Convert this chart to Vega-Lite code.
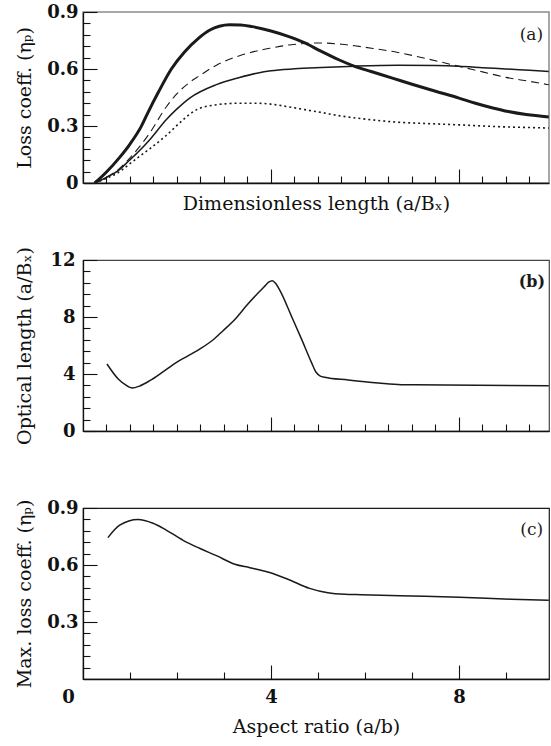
{
  "$schema": "https://vega.github.io/schema/vega-lite/v6.json",
  "padding": {"left": 14, "top": 2, "right": 0, "bottom": 0},
  "bounds": "flush",
  "spacing": 77,
  "datasets": {
    "a": [
      {"s": "thick", "x": 0.25, "y": 0}, {"s": "thick", "x": 0.5, "y": 0.058}, {"s": "thick", "x": 0.78, "y": 0.135}, {"s": "thick", "x": 1.0, "y": 0.205}, {"s": "thick", "x": 1.24, "y": 0.298}, {"s": "thick", "x": 1.4, "y": 0.38}, {"s": "thick", "x": 1.6, "y": 0.476}, {"s": "thick", "x": 1.88, "y": 0.6}, {"s": "thick", "x": 2.16, "y": 0.69}, {"s": "thick", "x": 2.45, "y": 0.76}, {"s": "thick", "x": 2.7, "y": 0.805}, {"s": "thick", "x": 2.9, "y": 0.825}, {"s": "thick", "x": 3.12, "y": 0.833}, {"s": "thick", "x": 3.35, "y": 0.832}, {"s": "thick", "x": 3.6, "y": 0.823}, {"s": "thick", "x": 4.0, "y": 0.8}, {"s": "thick", "x": 4.35, "y": 0.773}, {"s": "thick", "x": 4.72, "y": 0.737}, {"s": "thick", "x": 5.05, "y": 0.695}, {"s": "thick", "x": 5.43, "y": 0.65}, {"s": "thick", "x": 5.78, "y": 0.614}, {"s": "thick", "x": 6.13, "y": 0.587}, {"s": "thick", "x": 6.6, "y": 0.551}, {"s": "thick", "x": 7.0, "y": 0.52}, {"s": "thick", "x": 7.5, "y": 0.483}, {"s": "thick", "x": 8.0, "y": 0.447}, {"s": "thick", "x": 8.35, "y": 0.42}, {"s": "thick", "x": 8.72, "y": 0.395}, {"s": "thick", "x": 9.05, "y": 0.376}, {"s": "thick", "x": 9.43, "y": 0.36}, {"s": "thick", "x": 9.91, "y": 0.348},
      {"s": "dash", "x": 0.25, "y": 0}, {"s": "dash", "x": 0.5, "y": 0.03}, {"s": "dash", "x": 0.75, "y": 0.07}, {"s": "dash", "x": 0.99, "y": 0.13}, {"s": "dash", "x": 1.2, "y": 0.19}, {"s": "dash", "x": 1.42, "y": 0.263}, {"s": "dash", "x": 1.77, "y": 0.4}, {"s": "dash", "x": 2.0, "y": 0.47}, {"s": "dash", "x": 2.27, "y": 0.53}, {"s": "dash", "x": 2.45, "y": 0.56}, {"s": "dash", "x": 2.84, "y": 0.62}, {"s": "dash", "x": 3.33, "y": 0.67}, {"s": "dash", "x": 3.7, "y": 0.695}, {"s": "dash", "x": 4.0, "y": 0.71}, {"s": "dash", "x": 4.43, "y": 0.728}, {"s": "dash", "x": 5.07, "y": 0.737}, {"s": "dash", "x": 5.5, "y": 0.73}, {"s": "dash", "x": 5.78, "y": 0.722}, {"s": "dash", "x": 6.2, "y": 0.707}, {"s": "dash", "x": 6.7, "y": 0.687}, {"s": "dash", "x": 7.3, "y": 0.655}, {"s": "dash", "x": 8.0, "y": 0.614}, {"s": "dash", "x": 8.5, "y": 0.585}, {"s": "dash", "x": 9.0, "y": 0.556}, {"s": "dash", "x": 9.5, "y": 0.535}, {"s": "dash", "x": 9.91, "y": 0.517},
      {"s": "thin", "x": 0.25, "y": 0}, {"s": "thin", "x": 0.5, "y": 0.03}, {"s": "thin", "x": 0.75, "y": 0.065}, {"s": "thin", "x": 0.99, "y": 0.12}, {"s": "thin", "x": 1.2, "y": 0.17}, {"s": "thin", "x": 1.42, "y": 0.228}, {"s": "thin", "x": 1.77, "y": 0.333}, {"s": "thin", "x": 2.0, "y": 0.39}, {"s": "thin", "x": 2.27, "y": 0.447}, {"s": "thin", "x": 2.84, "y": 0.518}, {"s": "thin", "x": 3.33, "y": 0.555}, {"s": "thin", "x": 3.7, "y": 0.578}, {"s": "thin", "x": 4.0, "y": 0.591}, {"s": "thin", "x": 4.5, "y": 0.601}, {"s": "thin", "x": 5.07, "y": 0.608}, {"s": "thin", "x": 5.78, "y": 0.615}, {"s": "thin", "x": 6.7, "y": 0.62}, {"s": "thin", "x": 7.5, "y": 0.618}, {"s": "thin", "x": 8.0, "y": 0.614}, {"s": "thin", "x": 8.5, "y": 0.607}, {"s": "thin", "x": 9.0, "y": 0.6}, {"s": "thin", "x": 9.5, "y": 0.593}, {"s": "thin", "x": 9.91, "y": 0.587},
      {"s": "dot", "x": 0.25, "y": 0}, {"s": "dot", "x": 0.5, "y": 0.025}, {"s": "dot", "x": 0.75, "y": 0.055}, {"s": "dot", "x": 0.99, "y": 0.1}, {"s": "dot", "x": 1.2, "y": 0.14}, {"s": "dot", "x": 1.42, "y": 0.18}, {"s": "dot", "x": 1.77, "y": 0.25}, {"s": "dot", "x": 2.13, "y": 0.333}, {"s": "dot", "x": 2.41, "y": 0.385}, {"s": "dot", "x": 2.84, "y": 0.412}, {"s": "dot", "x": 3.1, "y": 0.418}, {"s": "dot", "x": 3.33, "y": 0.42}, {"s": "dot", "x": 3.7, "y": 0.42}, {"s": "dot", "x": 4.0, "y": 0.415}, {"s": "dot", "x": 4.35, "y": 0.402}, {"s": "dot", "x": 4.72, "y": 0.386}, {"s": "dot", "x": 5.1, "y": 0.37}, {"s": "dot", "x": 5.43, "y": 0.355}, {"s": "dot", "x": 6.13, "y": 0.333}, {"s": "dot", "x": 6.7, "y": 0.32}, {"s": "dot", "x": 7.3, "y": 0.313}, {"s": "dot", "x": 8.0, "y": 0.306}, {"s": "dot", "x": 8.5, "y": 0.3}, {"s": "dot", "x": 9.0, "y": 0.295}, {"s": "dot", "x": 9.5, "y": 0.292}, {"s": "dot", "x": 9.91, "y": 0.289}
    ],
    "b": [
      {"x": 0.51, "y": 4.7}, {"x": 0.75, "y": 3.65}, {"x": 0.9, "y": 3.25}, {"x": 1.05, "y": 3.02}, {"x": 1.2, "y": 3.15}, {"x": 1.42, "y": 3.53}, {"x": 1.7, "y": 4.15}, {"x": 1.99, "y": 4.82}, {"x": 2.25, "y": 5.3}, {"x": 2.48, "y": 5.75}, {"x": 2.75, "y": 6.35}, {"x": 2.98, "y": 7.04}, {"x": 3.25, "y": 7.9}, {"x": 3.48, "y": 8.8}, {"x": 3.7, "y": 9.6}, {"x": 3.85, "y": 10.1}, {"x": 3.95, "y": 10.45}, {"x": 4.03, "y": 10.55}, {"x": 4.1, "y": 10.35}, {"x": 4.2, "y": 9.8}, {"x": 4.43, "y": 8.1}, {"x": 4.65, "y": 6.45}, {"x": 4.86, "y": 4.82}, {"x": 4.96, "y": 4.12}, {"x": 5.05, "y": 3.85}, {"x": 5.14, "y": 3.77}, {"x": 5.64, "y": 3.58}, {"x": 6.28, "y": 3.37}, {"x": 6.77, "y": 3.25}, {"x": 7.7, "y": 3.23}, {"x": 9.91, "y": 3.18}
    ],
    "c": [
      {"x": 0.53, "y": 0.744}, {"x": 0.78, "y": 0.81}, {"x": 1.17, "y": 0.84}, {"x": 1.49, "y": 0.82}, {"x": 1.77, "y": 0.784}, {"x": 2.13, "y": 0.73}, {"x": 2.48, "y": 0.688}, {"x": 2.84, "y": 0.649}, {"x": 3.23, "y": 0.604}, {"x": 3.55, "y": 0.586}, {"x": 3.97, "y": 0.561}, {"x": 4.4, "y": 0.521}, {"x": 4.82, "y": 0.477}, {"x": 5.21, "y": 0.454}, {"x": 5.57, "y": 0.446}, {"x": 5.92, "y": 0.444}, {"x": 6.99, "y": 0.437}, {"x": 8.01, "y": 0.43}, {"x": 9.11, "y": 0.42}, {"x": 9.91, "y": 0.414}
    ],
    "la": [{"x": 9.79, "y": 0.78, "t": "(a)"}],
    "lb": [{"x": 9.83, "y": 10.46, "t": "(b)"}],
    "lc": [{"x": 9.79, "y": 0.784, "t": "(c)"}]
  },
  "vconcat": [
    {
      "width": 466, "height": 171,
      "view": {"stroke": "#8a8a8a", "strokeWidth": 1.5},
      "encoding": {
        "x": {"field": "x", "type": "quantitative", "scale": {"domain": [0, 9.915], "nice": false, "zero": false},
          "axis": {"values": [0.5, 1, 1.5, 2, 2.5, 3, 3.5, 4, 4.5, 5, 5.5, 6, 6.5, 7, 7.5, 8, 8.5, 9, 9.5], "labels": false,
            "tickSize": {"condition": {"test": "datum.value == 4 || datum.value == 8", "value": -14}, "value": -7},
            "title": "Dimensionless length (a/Bₓ)", "titlePadding": 11, "minExtent": 0, "maxExtent": 0}},
        "y": {"field": "y", "type": "quantitative", "scale": {"domain": [0, 0.9], "nice": false},
          "axis": {"values": [0, 0.06, 0.12, 0.18, 0.24, 0.3, 0.36, 0.42, 0.48, 0.54, 0.6, 0.66, 0.72, 0.78, 0.84, 0.9], "format": ".1~f",
            "labelExpr": "datum.value == 0 || datum.value == 0.3 || datum.value == 0.6 || datum.value == 0.9 ? datum.label : ''",
            "tickSize": {"condition": {"test": "datum.value == 0 || datum.value == 0.3 || datum.value == 0.6 || datum.value == 0.9", "value": -14}, "value": -7},
            "labelPadding": 19, "minExtent": 37, "maxExtent": 37, "titlePadding": 12, "title": "Loss coeff. (ηₚ)"}}
      },
      "layer": [
        {"data": {"name": "a"}, "transform": [{"filter": "datum.s == 'dot'"}], "mark": {"type": "line", "interpolate": "monotone", "strokeWidth": 1.6, "strokeDash": [2, 3], "color": "#1a1a1a"}},
        {"data": {"name": "a"}, "transform": [{"filter": "datum.s == 'thin'"}], "mark": {"type": "line", "interpolate": "monotone", "strokeWidth": 1.5, "color": "#1a1a1a"}},
        {"data": {"name": "a"}, "transform": [{"filter": "datum.s == 'dash'"}], "mark": {"type": "line", "interpolate": "monotone", "strokeWidth": 1.1, "strokeDash": [8, 5], "color": "#1a1a1a"}},
        {"data": {"name": "a"}, "transform": [{"filter": "datum.s == 'thick'"}], "mark": {"type": "line", "interpolate": "monotone", "strokeWidth": 3, "color": "#1a1a1a"}},
        {"data": {"name": "la"}, "mark": {"type": "text", "align": "right", "baseline": "middle", "font": "DejaVu Serif", "fontSize": 17, "color": "#1a1a1a"}, "encoding": {"text": {"field": "t"}}}
      ]
    },
    {
      "width": 466, "height": 171,
      "view": {"stroke": "#444", "strokeWidth": 1.2},
      "encoding": {
        "x": {"field": "x", "type": "quantitative", "scale": {"domain": [0, 9.915], "nice": false, "zero": false},
          "axis": {"values": [0.5, 1, 1.5, 2, 2.5, 3, 3.5, 4, 4.5, 5, 5.5, 6, 6.5, 7, 7.5, 8, 8.5, 9, 9.5], "labels": false,
            "tickSize": {"condition": {"test": "datum.value == 4 || datum.value == 8", "value": -14}, "value": -7},
            "title": null, "minExtent": 0, "maxExtent": 0}},
        "y": {"field": "y", "type": "quantitative", "scale": {"domain": [0, 12], "nice": false},
          "axis": {"values": [0, 0.8, 1.6, 2.4, 3.2, 4, 4.8, 5.6, 6.4, 7.2, 8, 8.8, 9.6, 10.4, 11.2, 12], "format": "~g",
            "labelExpr": "datum.value == 0 || datum.value == 4 || datum.value == 8 || datum.value == 12 ? datum.label : ''",
            "tickSize": {"condition": {"test": "datum.value == 0 || datum.value == 4 || datum.value == 8 || datum.value == 12", "value": -14}, "value": -7},
            "labelPadding": 22, "minExtent": 37, "maxExtent": 37, "titlePadding": 12, "title": "Optical length (a/Bₓ)"}}
      },
      "layer": [
        {"data": {"name": "b"}, "mark": {"type": "line", "interpolate": "monotone", "strokeWidth": 1.5, "color": "#1a1a1a"}},
        {"data": {"name": "lb"}, "mark": {"type": "text", "align": "right", "baseline": "middle", "font": "DejaVu Serif", "fontSize": 16, "fontWeight": "bold", "color": "#1a1a1a"}, "encoding": {"text": {"field": "t"}}}
      ]
    },
    {
      "width": 466, "height": 171,
      "view": {"stroke": "#1a1a1a", "strokeWidth": 1.2},
      "encoding": {
        "x": {"field": "x", "type": "quantitative", "scale": {"domain": [0, 9.915], "nice": false, "zero": false},
          "axis": {"values": [0, 0.5, 1, 1.5, 2, 2.5, 3, 3.5, 4, 4.5, 5, 5.5, 6, 6.5, 7, 7.5, 8, 8.5, 9, 9.5], "format": "d",
            "labelExpr": "datum.value == 0 || datum.value == 4 || datum.value == 8 ? datum.label : ''",
            "labelOffset": {"condition": {"test": "datum.value == 0", "value": -15}, "value": 0},
            "tickSize": {"condition": {"test": "datum.value == 0 || datum.value == 4 || datum.value == 8", "value": -14}, "value": -7},
            "labelPadding": 23, "labelFlush": false, "title": "Aspect ratio (a/b)", "titlePadding": 10, "minExtent": 28, "maxExtent": 28}},
        "y": {"field": "y", "type": "quantitative", "scale": {"domain": [0, 0.9], "nice": false},
          "axis": {"values": [0.06, 0.12, 0.18, 0.24, 0.3, 0.36, 0.42, 0.48, 0.54, 0.6, 0.66, 0.72, 0.78, 0.84, 0.9], "format": ".1~f",
            "labelExpr": "datum.value == 0.3 || datum.value == 0.6 || datum.value == 0.9 ? datum.label : ''",
            "tickSize": {"condition": {"test": "datum.value == 0.3 || datum.value == 0.6 || datum.value == 0.9", "value": -14}, "value": -7},
            "labelPadding": 19, "minExtent": 37, "maxExtent": 37, "titlePadding": 12, "title": "Max. loss coeff. (ηₚ)"}}
      },
      "layer": [
        {"data": {"name": "c"}, "mark": {"type": "line", "interpolate": "monotone", "strokeWidth": 1.5, "color": "#1a1a1a"}},
        {"data": {"name": "lc"}, "mark": {"type": "text", "align": "right", "baseline": "middle", "font": "DejaVu Serif", "fontSize": 17, "color": "#1a1a1a"}, "encoding": {"text": {"field": "t"}}}
      ]
    }
  ],
  "config": {
    "font": "DejaVu Serif",
    "view": {"stroke": null},
    "axis": {"grid": false, "domainColor": "#111", "domainWidth": 1.3, "tickColor": "#111", "tickWidth": 1.1,
      "labelColor": "#111", "labelFont": "DejaVu Serif", "labelFontSize": 18, "labelFontWeight": "bold",
      "titleColor": "#111", "titleFont": "DejaVu Serif", "titleFontSize": 19, "titleFontWeight": "normal"}
  }
}
